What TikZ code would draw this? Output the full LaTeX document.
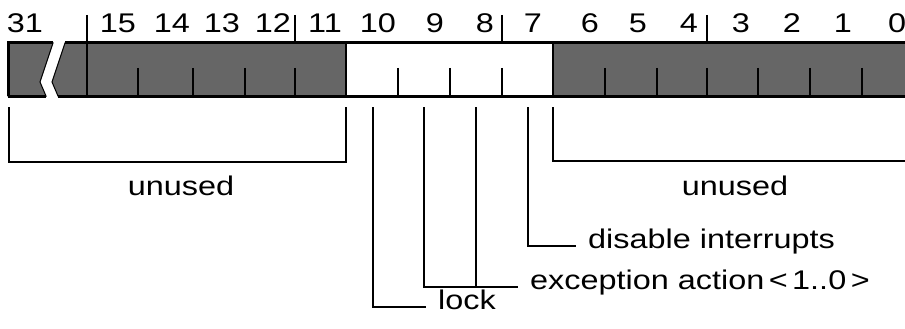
\documentclass[tikz,border=0pt]{standalone}
\usepackage{fontspec}
\setmainfont{Liberation Sans}[FakeStretch=1.2]

\tikzset{
  every node/.style={font=\fontsize{27}{29}\selectfont, inner sep=0pt},
  greyfill/.style={fill=black!60},
  regedge/.style={line width=3pt},
  bittick/.style={line width=2pt},
  field/.style={line width=2.5pt},
  fieldlabel/.style={anchor=mid west, inner xsep=12pt},
}

\begin{document}
\begin{tikzpicture}[x=1pt, y=-1pt]
  \useasboundingbox (0,0) rectangle (905,329);
  % shaded parts, with the break after bit 31
  \filldraw[greyfill, draw=black, line width=1pt] (8,43) -- (53,43) -- (40,82) -- (46,96) -- (8,96) -- cycle;
  \filldraw[greyfill, draw=black, line width=1pt] (65,43) -- (346,43) -- (346,96) -- (58,96) -- (52,82) -- cycle;
  \fill[greyfill] (553,43) rectangle (905,96);
  % outline of the register
  \draw[regedge] (8,96) -- (8,43) -- (53,43) (65,43) -- (905,43);
  \draw[regedge] (8,96) -- (46,96) (58,96) -- (905,96);
  \draw[bittick] (346,43) -- (346,96) (553,43) -- (553,96);
  \draw[bittick] (87,43) -- (87,96);
  % bit boundaries
  \foreach \x in {138,193,245,295,398,450,502,605,657,707,758,810,862}
    \draw[bittick] (\x,68) -- (\x,96);
  \foreach \x in {87,295,502,707}
    \draw[bittick] (\x,15) -- (\x,43);
  % bit numbers
  \foreach \b/\x in {31/25,15/118,14/172,13/222,12/273,11/325,10/378,9/435,8/485,
                     7/533,6/590,5/638,4/689,3/741,2/792,1/843,0/897}
    \node (n\b) at (\x,23) {\b};

  % fields
  \coordinate (u1a) at (9,107);
  \coordinate (u1b) at (346,107);
  \coordinate (u2a) at (553,107);
  \coordinate (u2b) at (905,161);
  \coordinate (b10) at (373,107);
  \coordinate (b9) at (424,107);
  \coordinate (b8) at (476,107);
  \coordinate (b7) at (528,107);

  \node[anchor=base] (unused1) at (181,195) {unused};
  \node[anchor=base] (unused2) at (735,195) {unused};
  \node[fieldlabel] (lock) at (426,307) {lock};
  \node[fieldlabel] (exc) at (518,287) {exception action\,<\,1..0\,>};
  \node[fieldlabel] (dis) at (576,246) {disable interrupts};

  \draw[field] (u1a) -- ++(0,55) -| (u1b);
  \draw[field] (u2a) |- (u2b);
  \draw[field] (b10) |- (lock.mid west);
  \draw[field] (b9) |- (exc.mid west);
  \draw[field] (b8) -- (b8 |- exc.mid west);
  \draw[field] (b7) |- (dis.mid west);
\end{tikzpicture}
\end{document}
